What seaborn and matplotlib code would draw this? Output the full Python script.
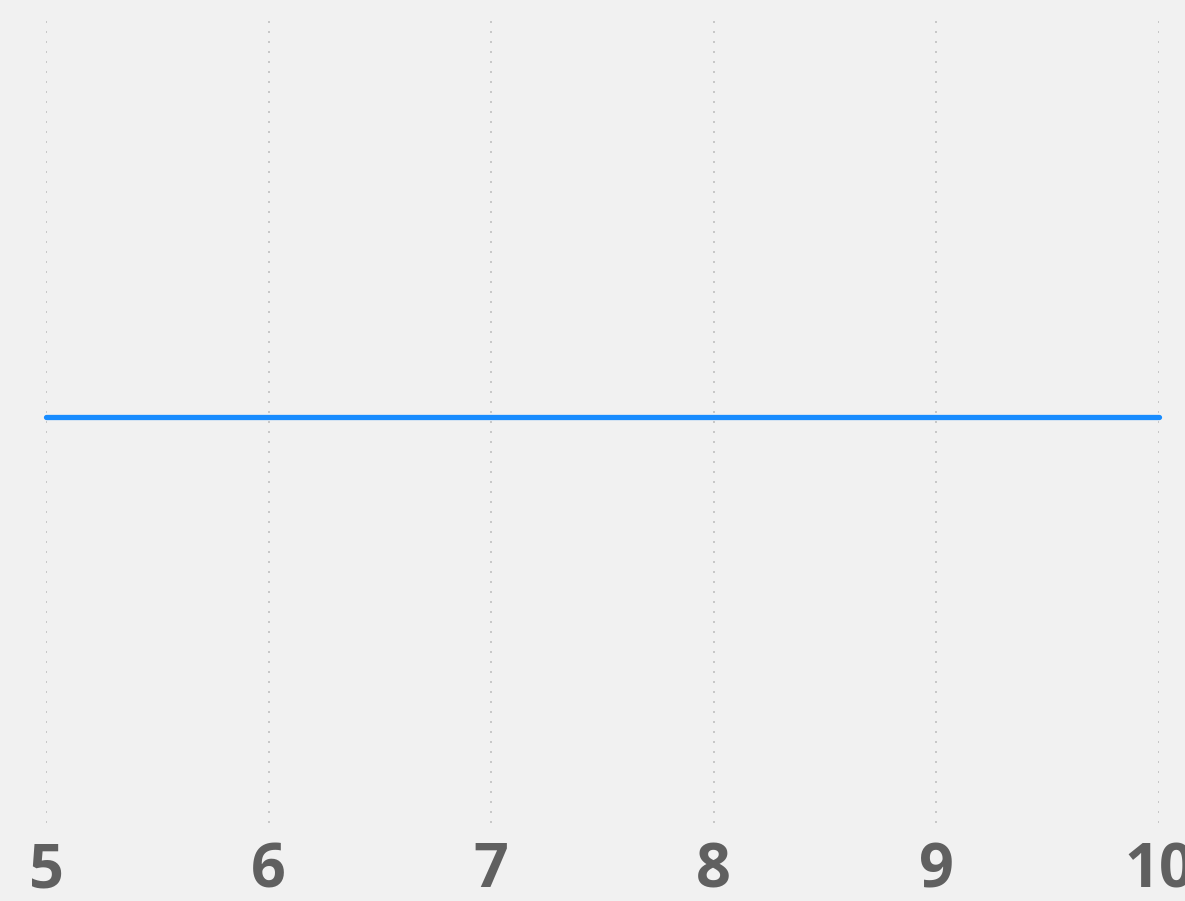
import pandas as pd
import seaborn as sns
import matplotlib.pyplot as plt

# === DANE ===
x_values = [5, 6, 7, 8, 9, 10]
y_values = [0.505, 0.505, 0.505, 0.505, 0.505, 0.505]
tick_labels = ["5", "6", "7", "8", "9", "10"]

df = pd.DataFrame({"x": x_values, "y": y_values})

# === STYL ===
sns.set_theme(style="white")
plt.rcParams["font.family"] = ["Open Sans", "DejaVu Sans"]

fig = plt.figure(figsize=(11.85, 9.01), dpi=100, facecolor="#f1f1f1")
ax = fig.add_axes([46 / 1185, 1 - 823 / 901, (1159 - 46) / 1185, (823 - 20) / 901])
ax.set_facecolor("#f1f1f1")

sns.lineplot(data=df, x="x", y="y", ax=ax, color="#188cff", linewidth=3.8)
for line in ax.lines:
    line.set_solid_capstyle("round")
    line.set_clip_on(False)

ax.set_xlim(5, 10)
ax.set_ylim(0, 1)
ax.set_xticks(x_values)
ax.set_xticklabels(tick_labels, fontsize=44, fontweight="bold", color="#606060")
ax.set_yticks([])
ax.set_xlabel("")
ax.set_ylabel("")
ax.tick_params(axis="x", length=0, pad=13)
ax.xaxis.grid(True, color="#c8c8c8", linewidth=1.44, linestyle=(0, (1, 4)))
ax.set_axisbelow(True)
for s in ax.spines.values():
    s.set_visible(False)

plt.savefig("out.png", dpi=100, facecolor=fig.get_facecolor())
plt.close()
